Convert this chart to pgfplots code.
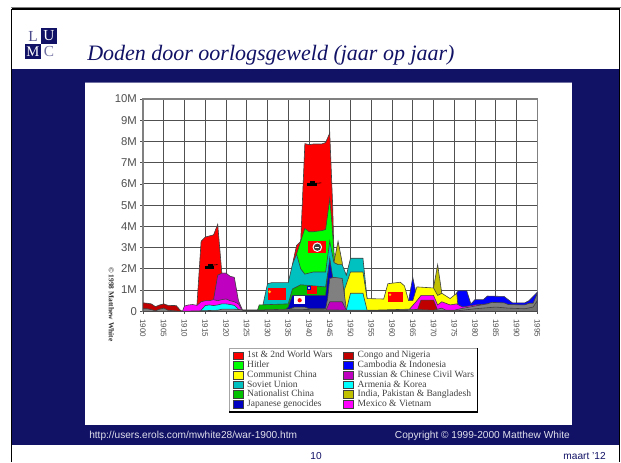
\documentclass[border=0pt]{standalone}
\usepackage{pgfplots}
\pgfplotsset{compat=1.18}
\usepackage{fontspec}
\setmainfont{Liberation Sans}
\newfontfamily\serif{Liberation Serif}
\definecolor{navy}{HTML}{111166}
\definecolor{tick}{HTML}{505050}
\definecolor{cR}{HTML}{FF0000}
\definecolor{cG}{HTML}{00FF00}
\definecolor{cY}{HTML}{FFFF00}
\definecolor{cC}{HTML}{00FFFF}
\definecolor{cM}{HTML}{FF00FF}
\definecolor{cB}{HTML}{0000FF}
\definecolor{cTeal}{HTML}{00C0C0}
\definecolor{cDG}{HTML}{00C000}
\definecolor{cJB}{HTML}{0000C0}
\definecolor{cCr}{HTML}{C00000}
\definecolor{cPu}{HTML}{C000C0}
\definecolor{cOl}{HTML}{C0C000}
\definecolor{cGr}{HTML}{808080}
\begin{document}
\begin{tikzpicture}
\path[use as bounding box] (0,0) rectangle (465.75pt,-346.5pt);
\begin{scope}[x=0.75pt,y=-0.75pt]
\fill[white] (0,0) rectangle (621,462);
% slide
\fill[navy] (12,69) rectangle (619,445);
\fill[white] (85,82) rectangle (572,425);
\draw[gray,line width=.6pt] (11,7.5)--(621,7.5);
\draw[black,line width=1.1pt] (11.5,9)--(619.3,9)--(619.3,462);
\draw[black,line width=1.1pt] (11.5,9)--(11.5,462);
\draw[navy!60,line width=.4pt] (85,82)--(572,82);
% logo
\fill[navy] (41,28) rectangle (57,43.5);
\fill[navy] (25,43.5) rectangle (41,59);
\node[navy!75,font=\serif\fontsize{11.5}{12}\selectfont,inner sep=0] at (33,36) {L};
\node[white,font=\serif\fontsize{11.5}{12}\selectfont,inner sep=0] at (49,36) {U};
\node[white,font=\serif\fontsize{11}{12}\selectfont,inner sep=0] at (33,51.5) {M};
\node[navy!60,font=\serif\fontsize{11.5}{12}\selectfont,inner sep=0] at (49,51.5) {C};
% title
\node[anchor=base west,navy,font=\serif\itshape\fontsize{16.5}{20}\selectfont,inner sep=0] at (87,60) {Doden door oorlogsgeweld (jaar op jaar)};
% footer
\node[anchor=base west,white!88!navy,font=\fontsize{7.6}{8}\selectfont,inner sep=0] at (89,438) {http://users.erols.com/mwhite28/war-1900.htm};
\node[anchor=base east,white!88!navy,font=\fontsize{7.6}{8}\selectfont,inner sep=0] at (570,438) {Copyright © 1999-2000 Matthew White};
\node[anchor=base,navy,font=\fontsize{7.6}{8}\selectfont,inner sep=0] at (316,459) {10};
\node[anchor=base east,navy,font=\fontsize{7.6}{8}\selectfont,inner sep=0] at (606,459) {maart '12};
\node[rotate=-90,anchor=west,tick!60!black,font=\serif\bfseries\fontsize{5.6}{6}\selectfont,inner sep=0] at (111.5,267) {© 1998 Matthew White};
% legend box
\draw[gray!70,line width=.7pt] (229,412)--(229,348)--(477.5,348);
\draw[black,line width=.8pt] (229,412)--(477.5,412)--(477.5,348);
\end{scope}
\begin{axis}[
  at={(107.25pt,-233.475pt)},anchor=south west,scale only axis,
  width=295.7pt,height=159.2pt,
  xmin=1900,xmax=1995,ymin=0,ymax=10,
  xtick={1900,1905,1910,1915,1920,1925,1930,1935,1940,1945,1950,1955,1960,1965,1970,1975,1980,1985,1990,1995},
  xticklabels={1900,1905,1910,1915,1920,1925,1930,1935,1940,1945,1950,1955,1960,1965,1970,1975,1980,1985,1990,1995},
  ytick={0,1,2,3,4,5,6,7,8,9,10},
  yticklabels={0,1M,2M,3M,4M,5M,6M,7M,8M,9M,10M},
  tick align=outside,
  major tick length=2.2pt,
  tick style={draw=tick,line width=.6pt},
  xtick pos=bottom,ytick pos=left,
  xmajorgrids,ymajorgrids,
  grid style={draw=tick,line width=.75pt},
  axis line style={draw=gray,line width=.9pt},
  y tick label style={font=\fontsize{8.5}{9}\selectfont,text=tick,inner sep=2.2pt},
  x tick label style={font=\fontsize{6}{7}\selectfont,text=tick,rotate=-90,anchor=west,inner sep=3.5pt},
  legend columns=2,
  legend cell align=left,
  legend image code/.code={\fill[#1] (0pt,-2.8pt) rectangle (7.5pt,2.8pt);},
  legend style={at={(rel axis cs:0.218,-0.173)},anchor=north west,
    draw=none,fill=none,inner xsep=2.5pt,inner ysep=1.2pt,
    font=\serif\fontsize{7.15}{7.15}\selectfont,text=black!75,
    row sep=-1.1pt,/tikz/column sep=1pt,
    /tikz/column 2/.style={column sep=6pt},
    nodes={inner ysep=1pt,inner xsep=2pt}},
]
\addlegendimage{fill=cR}\addlegendentry{1st \& 2nd World Wars}
\addlegendimage{fill=cCr}\addlegendentry{Congo and Nigeria}
\addlegendimage{fill=cG}\addlegendentry{Hitler}
\addlegendimage{fill=cB}\addlegendentry{Cambodia \& Indonesia}
\addlegendimage{fill=cY}\addlegendentry{Communist China}
\addlegendimage{fill=cPu}\addlegendentry{Russian \& Chinese Civil Wars}
\addlegendimage{fill=cTeal}\addlegendentry{Soviet Union}
\addlegendimage{fill=cC}\addlegendentry{Armenia \& Korea}
\addlegendimage{fill=cDG}\addlegendentry{Nationalist China}
\addlegendimage{fill=cOl}\addlegendentry{India, Pakistan \& Bangladesh}
\addlegendimage{fill=cJB}\addlegendentry{Japanese genocides}
\addlegendimage{fill=cM}\addlegendentry{Mexico \& Vietnam}
\pgfplotsset{every axis plot/.append style={draw=black!75,line width=.45pt,forget plot}}
% red
\addplot[fill=cR] coordinates {(1913,.3)(1914,3.3)(1915,3.5)(1916,3.55)(1917,3.6)(1918,4.1)(1919,1.8)(1920,1.8)(1921,0)(1935,0)(1936,2.2)(1937,3.1)(1938,3.3)(1939,7.9)(1940,7.85)(1941,7.88)(1943,7.88)(1944,7.95)(1945,8.4)(1945.7,5)(1946,2.8)(1947,0)} \closedcycle;
% Hitler
\addplot[fill=cG] coordinates {(1937,2.7)(1938,3.3)(1939,3.9)(1940,3.75)(1941,3.75)(1943,3.8)(1944,3.85)(1945,5.3)(1945.5,4.2)(1946,2.8)(1946.5,0)} \closedcycle;
% India etc
\addplot[fill=cOl] coordinates {(1946,2.3)(1947,3.3)(1948,2.3)(1949,0)(1969,0)(1970,1.1)(1971,2.2)(1972,.85)(1973,0)} \closedcycle;
% Soviet
\addplot[fill=cTeal] coordinates {(1928.9,.3)(1930,1.3)(1931,1.35)(1935,1.35)(1936,2.2)(1937,2.7)(1938,2.0)(1939,1.75)(1940,1.8)(1941,1.85)(1944,1.85)(1945,3.3)(1946,2.3)(1947,2.2)(1948,2.2)(1949,1.7)(1950,2.5)(1953,2.5)(1954,.6)(1955,0)} \closedcycle;
% Cambodia etc
\addplot[fill=cB] coordinates {(1964,.5)(1965,1.6)(1966,.65)(1967,0)(1975,0)(1975.5,.85)(1976,.97)(1978,.97)(1979,.35)(1980,.55)(1982,.55)(1983,.72)(1987,.7)(1989,.4)(1992,.4)(1993,.5)(1995,.9)} \closedcycle;
% Communist China
\addplot[fill=cY] coordinates {(1948.5,1)(1950,1.85)(1953,1.85)(1954,.6)(1958,.58)(1959,1.3)(1962,1.37)(1963,1.2)(1964,.5)(1965,.5)(1966,1.15)(1970,1.1)(1971,.75)(1972,.85)(1974,.6)(1975.6,.85)(1976,0)} \closedcycle;
% Nationalist China
\addplot[fill=cDG] coordinates {(1927.5,0)(1928,.3)(1935,.35)(1936,1.05)(1938,1.25)(1944,1.15)(1945,2.4)(1946,0)} \closedcycle;
% Japanese
\addplot[fill=cJB] coordinates {(1934.5,.1)(1935,.2)(1936,.75)(1944,.75)(1945,2.5)(1945.7,1.6)(1946,0)} \closedcycle;
% other, 1935-49
\addplot[fill=cGr] coordinates {(1935,.08)(1936.5,.2)(1939,.2)(1940,.12)(1944,.12)(1944.5,.6)(1945,1.55)(1946,1.6)(1948,1.55)(1949,.1)(1950,0)} \closedcycle;
% Russian etc
\addplot[fill=cPu] coordinates {(1917,.55)(1918,1.7)(1919,1.8)(1920,1.8)(1921,1.65)(1922,1.6)(1923,.5)(1924,.05)(1944,0)(1945,.45)(1948,.45)(1949,.05)(1949.5,0)} \closedcycle;
% Mexico etc
\addplot[fill=cM] coordinates {(1909.5,0)(1910,.25)(1911,.3)(1912,.32)(1913,.28)(1914,.45)(1915,.5)(1916,.5)(1917,.55)(1918,.5)(1919,.55)(1920,.58)(1921,.5)(1922,.45)(1923,.35)(1924,0)(1963.5,0)(1964,.05)(1966,.5)(1967,.75)(1970,.75)(1971,.3)(1972,.45)(1974,.3)(1975.6,.35)(1977,.2)(1980,.3)(1983,.35)(1984,0)} \closedcycle;
% Armenia etc
\addplot[fill=cC] coordinates {(1914,.05)(1915,.27)(1916,.3)(1917,.27)(1918,.3)(1919,.35)(1920,.35)(1921,.32)(1922,.28)(1923,.1)(1924,0)(1949,.05)(1950,.85)(1953,.85)(1954,.05)(1954.5,0)} \closedcycle;
% Congo etc
\addplot[fill=cCr] coordinates {(1900,.4)(1901,.38)(1902,.35)(1903,.22)(1904,.3)(1905,.35)(1906,.28)(1908,.27)(1909,.05)(1909.5,0)(1966,0)(1967,.53)(1970,.53)(1971,.05)(1971.5,0)} \closedcycle;
% rest
\addplot[fill=cGr] coordinates {(1900,.12)(1901,.12)(1902,.08)(1903,.02)(1904,.1)(1905,.15)(1906,.05)(1909,0)(1913,.02)(1918,.05)(1919,.1)(1922,.1)(1924,.07)(1929,.07)(1935,.1)(1950,.05)(1955,.05)(1964,.1)(1970,.05)(1972,.15)(1973,.05)(1975,.05)(1976,.1)(1980,.25)(1983,.35)(1984,.42)(1987,.4)(1988,.32)(1992,.3)(1993,.38)(1994,.38)(1995,.85)} \closedcycle;
\addplot[fill=black!55] coordinates {(1924,.04)(1929,.04)(1935,.05)(1976,.03)(1980,.12)(1985,.2)(1988,.15)(1992,.12)(1994,.2)(1995,.5)} \closedcycle;
% flags and tanks
\fill[cR] (axis cs:1930.1,.55) rectangle (axis cs:1934.5,1.08);
\fill[cY!80!red] (axis cs:1930.5,.92) circle (1.1pt);
\fill[cR] (axis cs:1959,.42) rectangle (axis cs:1962.6,.92);
\fill[cY!80!red] (axis cs:1959.5,.78) circle (1pt);
\fill[cR] (axis cs:1939.8,2.75) rectangle (axis cs:1944.2,3.3);
\fill[white] (axis cs:1942,3.02) circle (3.6pt);
\fill[black!75] (axis cs:1942,3.02) circle (2.7pt);
\draw[white,line width=.4pt] (axis cs:1941.5,3.02)--(axis cs:1942.5,3.02);
\fill[white] (axis cs:1936.5,.33) rectangle (axis cs:1939,.72);
\fill[cR] (axis cs:1937.75,.52) circle (1.6pt);
\fill[cR] (axis cs:1939.4,.82) rectangle (axis cs:1942,1.2);
\fill[cJB] (axis cs:1939.4,1.0) rectangle (axis cs:1940.6,1.2);
\fill[white] (axis cs:1940,1.1) circle (.8pt);
\fill[black] (axis cs:1915,2) rectangle (axis cs:1917.2,2.12);
\fill[black] (axis cs:1915.6,2.1) rectangle (axis cs:1916.8,2.25);
\draw[black,line width=.4pt] (axis cs:1916.5,2.17)--(axis cs:1918,2.2);
\fill[black] (axis cs:1939.6,5.9) rectangle (axis cs:1942,6.03);
\fill[black] (axis cs:1940.2,6.0) rectangle (axis cs:1941.5,6.15);
\draw[black,line width=.4pt] (axis cs:1941.4,6.03)--(axis cs:1943,6.05);
\end{axis}
\end{tikzpicture}
\end{document}
